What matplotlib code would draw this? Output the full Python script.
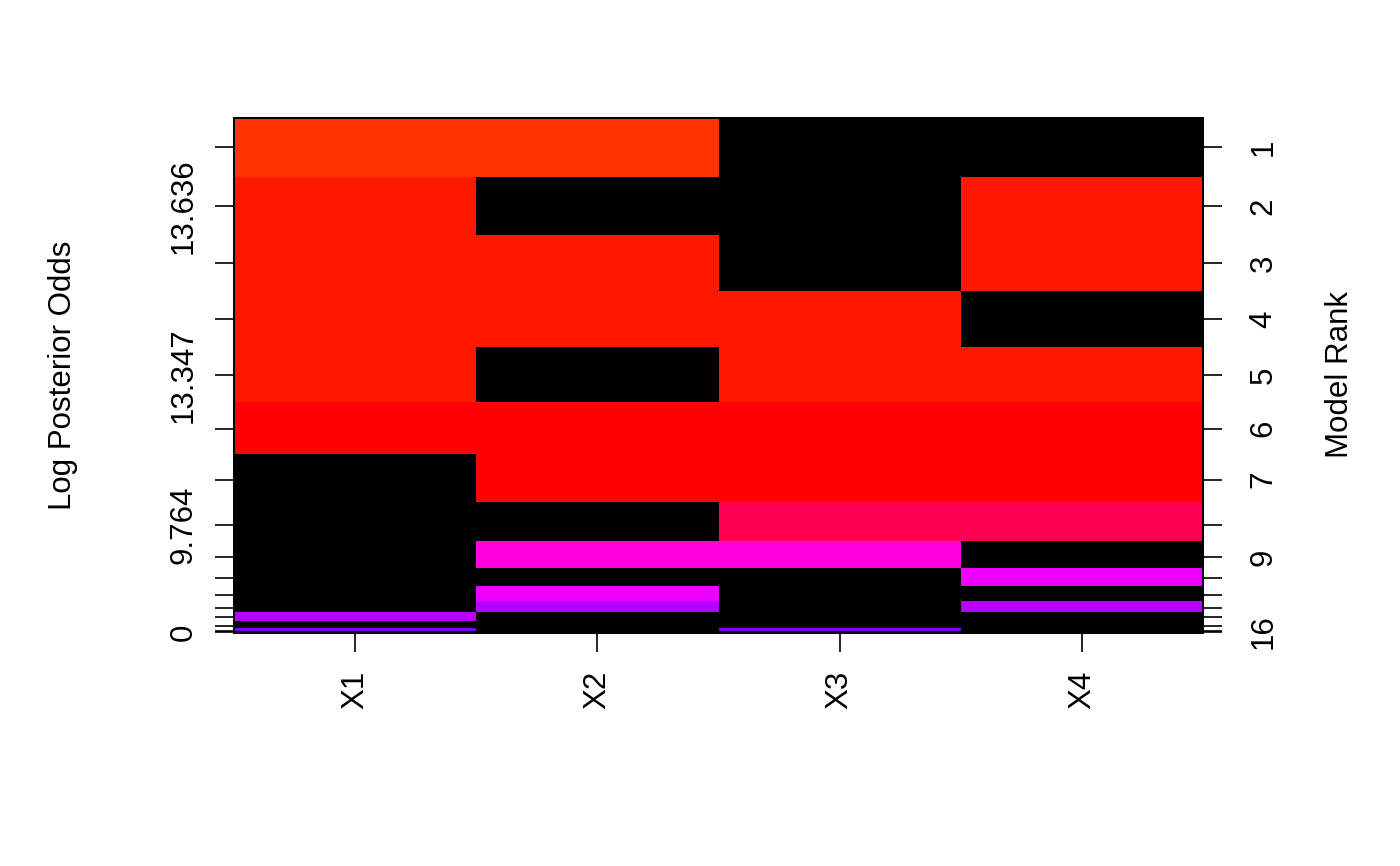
import numpy as np
import matplotlib
matplotlib.use("Agg")
import matplotlib.pyplot as plt
from matplotlib.colors import ListedColormap, hsv_to_rgb

plt.rcParams['font.family'] = ['Liberation Sans', 'DejaVu Sans']

# variables and models (rank 1 = best model, top row)
var_names = ["X1", "X2", "X3", "X4"]
log_odds = [14.6, 13.636, 13.5, 13.45, 13.347, 12.3, 12.1, 9.764,
            5.75, 4.05, 3.95, 2.3, 2.2, 1.9, 0.6, 0.0]
included = [
    [1, 1, 0, 0],
    [1, 0, 0, 1],
    [1, 1, 0, 1],
    [1, 1, 1, 0],
    [1, 0, 1, 1],
    [1, 1, 1, 1],
    [0, 1, 1, 1],
    [0, 0, 1, 1],
    [0, 1, 1, 0],
    [0, 0, 0, 1],
    [0, 1, 0, 0],
    [0, 1, 0, 1],
    [1, 0, 0, 0],
    [0, 0, 0, 0],
    [1, 0, 1, 0],
    [0, 0, 1, 0],
]
left_labelled = [2, 5, 8, 16]
right_labelled = [1, 2, 3, 4, 5, 6, 7, 9, 16]
offset = 0.75

scale = np.array(log_odds)
incl = np.array(included, dtype=float)
n_models, n_vars = incl.shape

# intensity = log odds + offset, black for excluded
vals = incl * (scale + offset)[:, None]
ncol = n_models + 2
zi = np.floor((ncol - 1e-5) * vals / vals.max() + 1e-7).astype(int)
hues = np.linspace(0.75, 1.0333, ncol - 1) % 1
rainbow = hsv_to_rgb(np.column_stack([hues, np.ones_like(hues), np.ones_like(hues)]))
cmap = ListedColormap(np.vstack([[0, 0, 0], rainbow]))

# row heights follow log posterior odds (bottom row = worst model)
s_rev = scale[::-1]
cum = np.concatenate([[0], np.cumsum(s_rev)])
centers = (cum[1:] + cum[:-1]) / 2
mids = (centers[1:] + centers[:-1]) / 2
edges = np.concatenate([[centers[0] - (centers[1] - centers[0]) / 2], mids,
                        [centers[-1] + (centers[-1] - centers[-2]) / 2]])

fig = plt.figure(figsize=(14, 8.66), dpi=100)
ax = fig.add_axes([234 / 1400, 1 - 632.7 / 866, (1203 - 234) / 1400, (632.7 - 118) / 866])
ax.pcolormesh(np.arange(n_vars + 1), edges, zi[::-1], cmap=cmap, vmin=-0.5, vmax=ncol - 0.5)
ax.set_xlim(0, n_vars)
ax.set_ylim(edges[0], edges[-1])

fs = 22.5
ranks = np.arange(n_models, 0, -1)
fmt = lambda v: ('%.3f' % v).rstrip('0').rstrip('.')
ax.set_yticks(centers)
ax.set_yticklabels([fmt(v) if r in left_labelled else '' for v, r in zip(s_rev, ranks)],
                   rotation=90, va='center', fontsize=fs)
ax.set_xticks(np.arange(n_vars) + 0.5)
ax.set_xticklabels(var_names, rotation=90, fontsize=fs)
ax.tick_params(axis='y', length=13.7, width=1.2, pad=12)
ax.tick_params(axis='x', length=13.7, width=1.2, pad=13.5)

ax2 = ax.twinx()
ax2.set_ylim(ax.get_ylim())
ax2.set_yticks(centers)
ax2.set_yticklabels([str(r) if r in right_labelled else '' for r in ranks],
                    rotation=90, va='center', fontsize=fs)
ax2.tick_params(axis='y', length=13.7, width=1.2, pad=19)

for a in (ax, ax2):
    for sp in a.spines.values():
        sp.set_linewidth(1.3)

fig.text(63 / 1400, 1 - 375 / 866, "Log Posterior Odds", rotation=90,
         ha='center', va='center', fontsize=fs)
fig.text(1340 / 1400, 1 - 375 / 866, "Model Rank", rotation=90,
         ha='center', va='center', fontsize=fs)

fig.savefig("out.png", dpi=100)
